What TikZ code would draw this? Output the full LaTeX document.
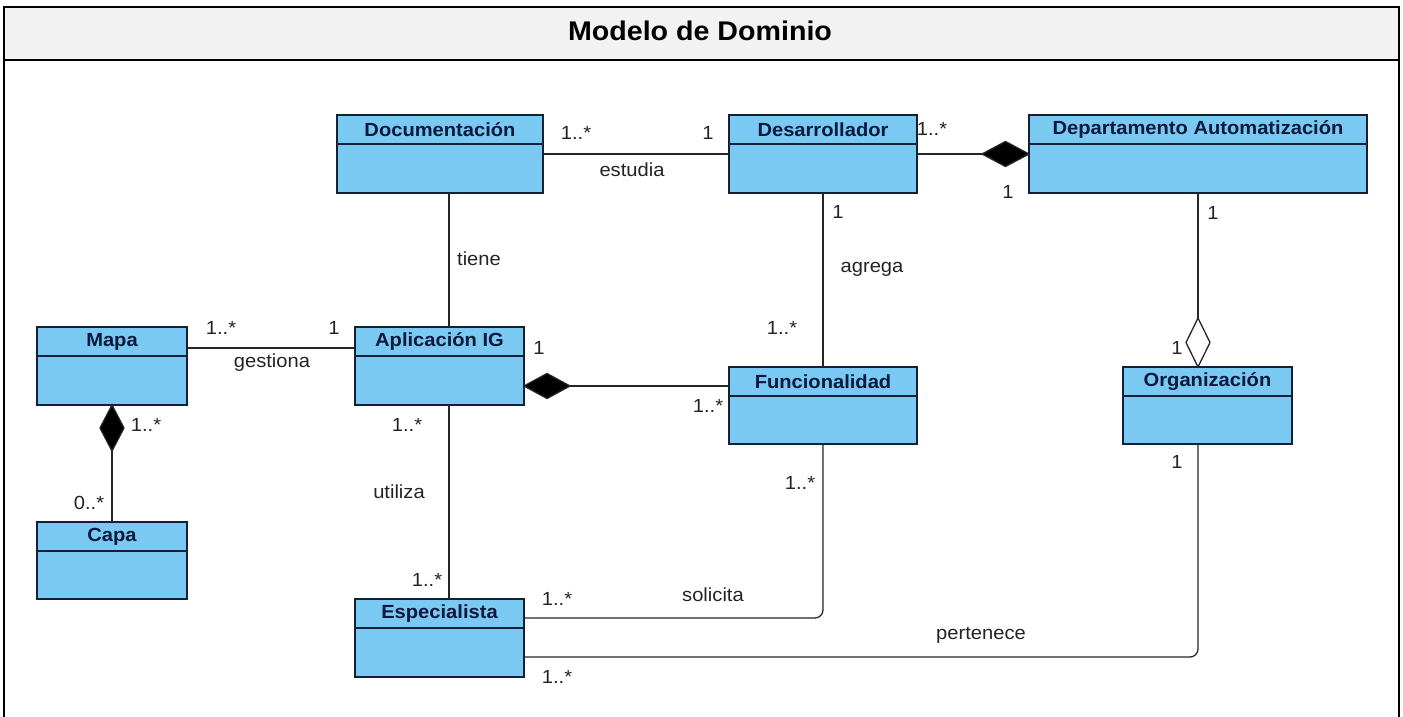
\documentclass[tikz,border=0pt]{standalone}
\usepackage{fontspec}
\setmainfont{Liberation Sans}[FakeStretch=1.06]
\usetikzlibrary{calc}
\definecolor{clsfill}{RGB}{122,201,242}
\definecolor{clsline}{RGB}{22,32,52}
\definecolor{clstext}{RGB}{10,25,60}
\definecolor{titlefill}{RGB}{242,242,242}
\definecolor{lbl}{RGB}{35,35,35}
\newcommand\umlcls[6]{%
  \node[clsbox, minimum width={#4-#2}, minimum height={#5-#3}, anchor=north west] (#1) at (#2,#3) {};
  \draw[clsborder] ($(#1.north west)+(0,29)$) -- ($(#1.north east)+(0,29)$);
  \node[clsname] (#1-name) at ($(#1.north)+(0,15)$) {#6};
}
\begin{document}
\begin{tikzpicture}[x=1pt,y=-1pt,
  clsbox/.style={draw=clsline, line width=1.5pt, fill=clsfill, inner sep=0pt, outer sep=0pt},
  clsborder/.style={draw=clsline, line width=1.5pt},
  clsname/.style={font=\bfseries\fontsize{19}{21}\selectfont, text=clstext, inner sep=0pt},
  lab/.style={font=\fontsize{19}{21}\selectfont, text=lbl, inner sep=0pt},
  assoc/.style={draw=black!85, line width=1.3pt},
  frameline/.style={draw=black, line width=2.6pt}]
\useasboundingbox (0,0) rectangle (1403,717);
% frame
\fill[titlefill] (4,7) rectangle (1399,60);
\draw[frameline] (4,725) -- (4,7) -- (1399,7) -- (1399,725);
\draw[frameline] (4,60) -- (1399,60);
\node[font=\bfseries\fontsize{27}{30}\selectfont, inner sep=0pt] (title) at (700,31) {Modelo de Dominio};
% classes
\umlcls{doc}{337}{115}{543}{193}{Documentación}
\umlcls{des}{729}{115}{917}{193}{Desarrollador}
\umlcls{dep}{1029}{115}{1367}{193}{Departamento Automatización}
\umlcls{mapa}{37}{327}{187}{405}{Mapa}
\umlcls{apl}{355}{327}{524}{405}{Aplicación IG}
\umlcls{fun}{729}{367}{917}{444}{Funcionalidad}
\umlcls{org}{1123}{367}{1292}{444}{Organización}
\umlcls{capa}{37}{522}{187}{599}{Capa}
\umlcls{esp}{355}{599}{524}{677}{Especialista}
% estudia
\draw[assoc] (doc.east) -- (des.west);
% Desarrollador - Departamento (composition)
\coordinate (dd) at (dep.west);
\coordinate (ddt) at ($(dd)+(-47,0)$);
\draw[assoc, fill=black] (dd) -- ++(-23.5,-12.5) -- (ddt) -- ++(23.5,12.5) -- cycle;
\draw[assoc] (des.east) -- (ddt);
% tiene
\draw[assoc] (449,0 |- doc.south) -- (449,0 |- apl.north);
% gestiona
\draw[assoc] (mapa.east |- 0,348) -- (apl.west |- 0,348);
% Mapa - Capa (composition)
\coordinate (md) at (mapa.south);
\coordinate (mdt) at ($(md)+(0,46)$);
\draw[assoc, fill=black] (md) -- ++(12,23) -- (mdt) -- ++(-12,-23) -- cycle;
\draw[assoc] (mdt) -- (capa.north);
% Aplicacion - Funcionalidad (composition)
\coordinate (ad) at (apl.east |- 0,386);
\coordinate (adt) at ($(ad)+(46,0)$);
\draw[assoc, fill=black] (ad) -- ++(23,-12.5) -- (adt) -- ++(-23,12.5) -- cycle;
\draw[assoc] (adt) -- (fun.west |- 0,386);
% agrega
\draw[assoc] (des.south) -- (823,0 |- fun.north);
% Departamento - Organizacion (aggregation)
\coordinate (od) at (1198,0 |- org.north);
\coordinate (odt) at ($(od)+(0,-49)$);
\draw[assoc, fill=white] (od) -- ++(12,-24.5) -- (odt) -- ++(-12,24.5) -- cycle;
\draw[assoc] (1198,0 |- dep.south) -- (odt);
% utiliza
\draw[assoc] (449,0 |- apl.south) -- (449,0 |- esp.north);
% solicita
\draw[assoc, rounded corners=8pt] (823,0 |- fun.south) |- (esp.east |- 0,618);
% pertenece
\draw[assoc, rounded corners=8pt] (1198,0 |- org.south) |- (esp.east |- 0,657);
% labels
\node[lab] (l1) at (576,133) {1..*};
\node[lab] (l2) at (708,133) {1};
\node[lab] (l3) at (632,170) {estudia};
\node[lab] (l4) at (932,129) {1..*};
\node[lab] (l5) at (1008,192) {1};
\node[lab] (l6) at (1213,213) {1};
\node[lab] (l7) at (479,259) {tiene};
\node[lab] (l8) at (838,212) {1};
\node[lab] (l9) at (872,269) {agrega};
\node[lab] (l10) at (782,328) {1..*};
\node[lab] (l11) at (221,328) {1..*};
\node[lab] (l12) at (334,328) {1};
\node[lab] (l13) at (272,363) {gestiona};
\node[lab] (l14) at (539,348) {1};
\node[lab] (l15) at (1177,348) {1};
\node[lab] (l16) at (708,406) {1..*};
\node[lab] (l17) at (407,425) {1..*};
\node[lab] (l18) at (146,425) {1..*};
\node[lab] (l19) at (1177,462) {1};
\node[lab] (l20) at (800,483) {1..*};
\node[lab] (l21) at (399,492) {utiliza};
\node[lab] (l22) at (89,503) {0..*};
\node[lab] (l23) at (427,580) {1..*};
\node[lab] (l24) at (557,599) {1..*};
\node[lab] (l25) at (713,595) {solicita};
\node[lab] (l26) at (981,635) {pertenece};
\node[lab] (l27) at (557,677) {1..*};
\end{tikzpicture}
\end{document}
